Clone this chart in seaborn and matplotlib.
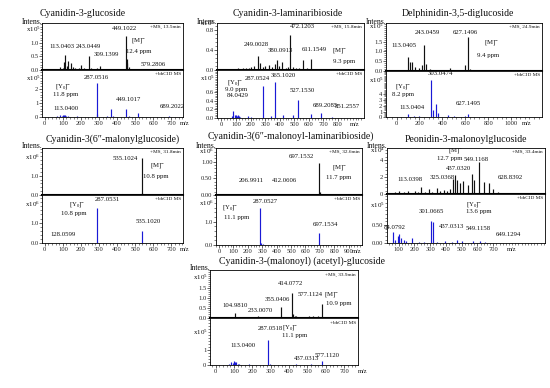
import matplotlib
matplotlib.use("Agg")
import matplotlib.pyplot as plt
import matplotlib.transforms as mtrans
from matplotlib.ticker import AutoMinorLocator, FixedLocator, NullLocator
import pandas as pd
import seaborn as sns

# ------------------------------------------------------------------ data
TITLES = ["Cyanidin-3-glucoside", "Cyanidin-3-laminaribioside",
          "Delphinidin-3,5-diglucoside", "Cyanidin-3(6\u2033-malonylglucoside)",
          "Cyanidin-3(6\u2033-malonoyl-laminaribioside)",
          "Peonidin-3-malonoylglucoside",
          "Cyanidin-3-(malonoyl) (acetyl)-glucoside"]
MS_INFO = ["+MS, 13.5min", "+MS, 15.8min", "+MS, 24.9min", "+MS, 31.8min",
           "+MS, 32.6min", "+MS, 33.4min", "+MS, 33.9min"]
CID_INFO = "+bbCID MS"

# panel 1
P1_MS_MZ = [70, 85, 100, 107, 113, 121, 131, 143, 155, 165, 178, 190, 203, 215, 229, 243, 258, 275,
            291, 305, 330, 360, 385, 405, 430, 449, 452, 457, 463, 480, 520, 579, 610, 650]
P1_MS_INT = [0.04, 0.1, 0.07, 0.3, 0.55, 0.15, 0.33, 0.27, 0.12, 0.06, 0.05, 0.08, 0.2, 0.07, 0.05,
             0.52, 0.06, 0.04, 0.06, 0.15, 0.04, 0.04, 0.03, 0.05, 0.05, 1.26, 0.4, 0.25, 0.1, 0.05,
             0.03, 0.05, 0.02, 0.02]
P1_CID_MZ = [70, 85, 95, 100, 105, 113, 120, 130, 160, 180, 287, 290, 345, 365, 380, 449, 465, 517, 600, 689]
P1_CID_INT = [0.05, 0.15, 0.1, 0.15, 0.12, 0.12, 0.08, 0.05, 0.03, 0.04, 2.45, 0.2, 0.1, 0.55, 0.1,
              0.55, 0.05, 0.32, 0.03, 0.1]
P1_MS_NOTES = ["449.1022", "113.0403", "243.0449", "309.1399", "[M]$^{-}$", "12.4 ppm", "579.2806"]
P1_CID_NOTES = ["287.0516", "[Y$_{0}$]$^{-}$", "11.8 ppm", "113.0400", "449.1017", "689.2022"]
P1_MS_YT = [0.0, 0.5, 1.0]
P1_CID_YT = [0, 1, 2]
P1_EXP = (5, 5)

# panel 2
P2_MS_MZ = [60, 85, 100, 115, 130, 150, 170, 190, 205, 225, 249, 265, 285, 300, 325, 345, 365, 379,
            395, 414, 440, 455, 471, 490, 510, 530, 558, 590, 615, 640, 700]
P2_MS_INT = [0.02, 0.03, 0.03, 0.04, 0.03, 0.05, 0.04, 0.05, 0.06, 0.08, 0.28, 0.15, 0.06, 0.08, 0.1,
             0.06, 0.12, 0.21, 0.08, 0.16, 0.05, 0.06, 0.7, 0.06, 0.05, 0.04, 0.2, 0.04, 0.23, 0.03, 0.02]
P2_CID_MZ = [70, 82, 90, 97, 105, 113, 120, 130, 180, 200, 287, 340, 368, 425, 493, 527, 612, 683, 757]
P2_CID_INT = [0.04, 0.17, 0.06, 0.08, 0.05, 0.07, 0.04, 0.03, 0.05, 0.03, 0.75, 0.05, 0.83, 0.06,
              0.08, 0.42, 0.1, 0.12, 0.03]
P2_MS_NOTES = ["472.1203", "249.0028", "380.0913", "611.1549", "[M]$^{-}$", "9.3 ppm"]
P2_CID_NOTES = ["287.0524", "365.1020", "[Y$_{0}$]$^{-}$", "9.0 ppm", "84.0429", "527.1530",
                "689.2085", "851.2557"]
P2_MS_YT = [0.0, 0.4, 0.8]
P2_CID_YT = [0.0, 0.2, 0.4, 0.6]
P2_EXP = (5, 5)

# panel 3
P3_MS_MZ = [98, 118, 138, 161, 196, 220, 243, 255, 290, 350, 420, 467, 500, 598, 627, 640]
P3_MS_INT = [0.72, 0.46, 0.45, 0.2, 0.15, 0.3, 1.35, 0.35, 0.08, 0.06, 0.05, 0.15, 0.05, 0.3, 1.75, 0.1]
P3_CID_MZ = [98, 150, 200, 303, 320, 345, 360, 450, 500, 600, 627]
P3_CID_INT = [0.6, 0.3, 0.2, 6.37, 1.2, 2.3, 0.8, 0.4, 0.2, 0.3, 0.6]
P3_MS_NOTES = ["243.0459", "627.1496", "113.0405", "[M]$^{-}$", "9.4 ppm"]
P3_CID_NOTES = ["303.0474", "[Y$_{0}$]$^{-}$", "8.2 ppm", "113.0404", "627.1495"]
P3_MS_YT = [0.0, 0.5, 1.0, 1.5]
P3_CID_YT = [0, 1, 2, 3, 4]
P3_EXP = (5, 5)

# panel 4
P4_MS_MZ = [287, 449, 535, 537]
P4_MS_INT = [0.02, 0.01, 1.9, 0.12]
P4_CID_MZ = [128, 287, 290, 535]
P4_CID_INT = [0.02, 1.73, 0.06, 0.6]
P4_MS_NOTES = ["535.1024", "[M]$^{-}$", "10.8 ppm"]
P4_CID_NOTES = ["287.0531", "[Y$_{0}$]$^{-}$", "10.8 ppm", "535.1020", "128.0599"]
P4_MS_YT = [0.0, 1.0]
P4_CID_YT = [0.0, 1.0]
P4_EXP = (6, 6)

# panel 5
P5_MS_MZ = [120, 207, 300, 412, 535, 697, 700]
P5_MS_INT = [0.01, 0.02, 0.02, 0.03, 0.01, 0.95, 0.08]
P5_CID_MZ = [128, 287, 290, 305, 535, 697]
P5_CID_INT = [0.02, 1.6, 0.1, 0.06, 0.02, 0.5]
P5_MS_NOTES = ["697.1532", "[M]$^{-}$", "11.7 ppm", "206.9911", "412.0606"]
P5_CID_NOTES = ["287.0527", "[Y$_{0}$]$^{-}$", "11.1 ppm", "697.1534"]
P5_MS_YT = [0.0, 0.5, 1.0]
P5_CID_YT = [0.0, 1.0]
P5_EXP = (6, 6)

# panel 6
P6_MS_MZ = [60, 80, 100, 115, 132, 150, 163, 185, 206, 225, 244, 265, 290, 315, 343, 365, 385, 405,
            427, 448, 459, 470, 491, 511, 539, 565, 581, 613, 644, 674, 701, 733, 760]
P6_MS_INT = [0.15, 0.2, 0.3, 0.15, 0.25, 0.1, 0.35, 0.15, 0.4, 0.2, 0.85, 0.2, 0.55, 0.25, 0.7, 0.3,
             0.5, 0.3, 0.6, 1.8, 2.2, 1.7, 1.3, 1.5, 1.0, 2.4, 1.6, 3.7, 1.4, 1.3, 0.6, 0.2, 0.1]
P6_CID_MZ = [62, 79, 96, 104, 117, 132, 150, 185, 227, 260, 305, 318, 343, 396, 440, 470, 501, 575, 617, 650]
P6_CID_INT = [0.3, 0.08, 0.2, 0.25, 0.15, 0.1, 0.05, 0.15, 0.03, 0.03, 0.6, 0.59, 0.03, 0.05, 0.04,
              0.1, 0.05, 0.07, 0.05, 0.03]
P6_MS_NOTES = ["[M]$^{-}$", "12.7 ppm", "549.1168", "437.0320", "325.0368", "113.0398", "628.8392"]
P6_CID_NOTES = ["84.0792", "301.0665", "[Y$_{0}$]$^{-}$", "13.6 ppm", "437.0313", "549.1158", "649.1294"]
P6_MS_YT = [0, 2, 4]
P6_CID_YT = [0.0, 0.5]
P6_EXP = (4, 5)

# panel 7
P7_MS_MZ = [60, 80, 105, 120, 150, 190, 215, 233, 260, 290, 320, 340, 355, 390, 405, 414, 420, 430,
            440, 460, 485, 500, 510, 530, 545, 560, 577, 600, 640]
P7_MS_INT = [0.03, 0.04, 0.25, 0.05, 0.03, 0.04, 0.05, 0.13, 0.05, 0.07, 0.04, 0.06, 0.56, 0.05, 0.08,
             1.25, 0.2, 0.1, 0.1, 0.08, 0.05, 0.06, 0.1, 0.1, 0.05, 0.12, 0.7, 0.05, 0.02]
P7_CID_MZ = [75, 85, 95, 100, 107, 113, 120, 130, 180, 287, 295, 355, 437, 520, 577, 600]
P7_CID_INT = [0.08, 0.2, 0.15, 0.25, 0.2, 0.22, 0.1, 0.05, 0.06, 1.67, 0.1, 0.03, 0.05, 0.05, 0.25, 0.03]
P7_MS_NOTES = ["414.0772", "577.1124", "[M]$^{-}$", "10.9 ppm", "355.0406", "104.9810", "233.0070"]
P7_CID_NOTES = ["287.0518", "[Y$_{0}$]$^{-}$", "11.1 ppm", "113.0400", "437.0313", "577.1120"]
P7_MS_YT = [0.0, 0.5, 1.0, 1.5]
P7_CID_YT = [0, 1]
P7_EXP = (5, 5)

# ------------------------------------------------------------------ layout (pixels / data positions)
W, H = 550, 388
LAYOUT = [
    dict(box=(42, 183, 23, 70, 117), xlim=(-15, 764), xt=(0, 700, 100), mz_x=775, title=(83, 14),
         ms_ylim=1.74, ms_exp_y=1.5, ms_fmt="{:.1f}", cid_ylim=3.36, cid_exp_y=2.75, cid_fmt="{:.0f}",
         ms_xy=[(440, 1.55), (94, 0.86), (240, 0.86), (339, 0.56), (516, 1.05), (518, 0.68), (601, 0.19)],
         cid_xy=[(283, 2.83), (101, 2.12), (118, 1.62), (118, 0.62), (461, 1.26), (706, 0.74)]),
    dict(box=(217, 364, 23, 70, 118), xlim=(-30, 978), xt=(0, 800, 100), mz_x=916, title=(288, 14),
         ms_ylim=0.94, ms_exp_y=0.93, ms_fmt="{:.1f}", cid_ylim=1.12, cid_exp_y=0.92, cid_fmt="{:.1f}",
         ms_xy=[(555, 0.88), (242, 0.52), (407, 0.4), (635, 0.41), (813, 0.37), (843, 0.17)],
         cid_xy=[(244, 0.91), (425, 1.0), (98, 0.81), (98, 0.66), (109, 0.52), (555, 0.63),
                 (711, 0.3), (863, 0.26)]),
    dict(box=(386, 542, 23, 71, 117.3), xlim=(-92, 1270), xt=(0, 1000, 200), mz_x=1140, title=(458, 14),
         ms_ylim=2.46, ms_exp_y=2.3, ms_fmt="{:.1f}", cid_ylim=8.0, cid_exp_y=6.4, cid_fmt="{:.0f}",
         ms_xy=[(269, 1.96), (598, 1.96), (65, 1.32), (830, 1.41), (801, 0.81)],
         cid_xy=[(379, 7.6), (60, 5.2), (60, 4.0), (138, 1.7), (627, 2.45)]),
    dict(box=(42, 183, 148, 195, 243.3), xlim=(-15, 764), xt=(0, 700, 100), mz_x=775, title=(113, 139),
         ms_ylim=2.43, ms_exp_y=1.95, ms_fmt="{:.1f}", cid_ylim=2.34, cid_exp_y=1.9, cid_fmt="{:.1f}",
         ms_xy=[(444, 1.9), (621, 1.47), (615, 0.95)],
         cid_xy=[(347, 2.1), (181, 1.86), (162, 1.46), (571, 1.05), (101, 0.44)]),
    dict(box=(216, 362, 148, 195, 245), xlim=(-21, 993), xt=(0, 900, 100), mz_x=956, title=(291, 136),
         ms_ylim=1.41, ms_exp_y=1.3, ms_fmt="{:.2f}", cid_ylim=2.15, cid_exp_y=1.8, cid_fmt="{:.1f}",
         ms_xy=[(575, 1.15), (834, 0.8), (834, 0.53), (227, 0.42), (458, 0.42)],
         cid_xy=[(324, 1.86), (75, 1.57), (123, 1.17), (736, 0.86)]),
    dict(box=(387, 545, 148, 194, 243.3), xlim=(27, 1028), xt=(100, 700, 100), mz_x=820, title=(466, 139),
         ms_ylim=5.4, ms_exp_y=5.1, ms_fmt="{:.0f}", cid_ylim=1.35, cid_exp_y=1.05, cid_fmt="{:.2f}",
         ms_xy=[(459, 5.05), (427, 4.2), (590, 4.0), (480, 2.94), (375, 1.96), (174, 1.65), (807, 1.96)],
         cid_xy=[(75, 0.43), (311, 0.86), (581, 1.05), (606, 0.86), (438, 0.45), (606, 0.41), (796, 0.23)]),
    dict(box=(210, 358, 270, 318.3, 365), xlim=(-30, 775), xt=(0, 700, 100), mz_x=802, title=(302, 261),
         ms_ylim=2.4, ms_exp_y=2.03, ms_fmt="{:.1f}", cid_ylim=3.13, cid_exp_y=2.2, cid_fmt="{:.0f}",
         ms_xy=[(409, 1.75), (517, 1.16), (631, 1.16), (671, 0.75), (336, 0.91), (106, 0.63), (246, 0.38)],
         cid_xy=[(296, 2.44), (409, 2.44), (432, 1.95), (151, 1.29), (496, 0.45), (607, 0.67)]),
]

TITLE_FS, NOTE_FS, TICK_FS, INFO_FS, LBL_FS, EXP_FS = 7.1, 4.9, 4.7, 3.8, 5.6, 5.0
MS_COLOR, CID_COLOR = "#111111", "#1a1ad6"

# ------------------------------------------------------------------ style
sns.set_theme(style="ticks")
plt.rcParams["font.family"] = ["Liberation Serif", "DejaVu Serif"]
plt.rcParams["mathtext.fontset"] = "custom"
plt.rcParams["mathtext.rm"] = "Liberation Serif"
plt.rcParams["mathtext.it"] = "Liberation Serif:italic"
plt.rcParams["axes.linewidth"] = 0.6
plt.rcParams["text.color"] = "#111111"

fig = plt.figure(figsize=(W / 100, H / 100), dpi=100)
fig.patch.set_facecolor("white")

panels = [
    (P1_MS_MZ, P1_MS_INT, P1_CID_MZ, P1_CID_INT, P1_MS_NOTES, P1_CID_NOTES, P1_MS_YT, P1_CID_YT, P1_EXP),
    (P2_MS_MZ, P2_MS_INT, P2_CID_MZ, P2_CID_INT, P2_MS_NOTES, P2_CID_NOTES, P2_MS_YT, P2_CID_YT, P2_EXP),
    (P3_MS_MZ, P3_MS_INT, P3_CID_MZ, P3_CID_INT, P3_MS_NOTES, P3_CID_NOTES, P3_MS_YT, P3_CID_YT, P3_EXP),
    (P4_MS_MZ, P4_MS_INT, P4_CID_MZ, P4_CID_INT, P4_MS_NOTES, P4_CID_NOTES, P4_MS_YT, P4_CID_YT, P4_EXP),
    (P5_MS_MZ, P5_MS_INT, P5_CID_MZ, P5_CID_INT, P5_MS_NOTES, P5_CID_NOTES, P5_MS_YT, P5_CID_YT, P5_EXP),
    (P6_MS_MZ, P6_MS_INT, P6_CID_MZ, P6_CID_INT, P6_MS_NOTES, P6_CID_NOTES, P6_MS_YT, P6_CID_YT, P6_EXP),
    (P7_MS_MZ, P7_MS_INT, P7_CID_MZ, P7_CID_INT, P7_MS_NOTES, P7_CID_NOTES, P7_MS_YT, P7_CID_YT, P7_EXP),
]

# tidy table of all peaks
rows = []
for i, (mm, mi, cm, ci, *_rest) in enumerate(panels):
    rows += [dict(panel=i, scan="MS", mz=a, inten=b) for a, b in zip(mm, mi)]
    rows += [dict(panel=i, scan="CID", mz=a, inten=b) for a, b in zip(cm, ci)]
peaks = pd.DataFrame(rows)


def style_axis(ax, yticks, ylim, fmt, exp, exp_y, show_x, lay):
    ax.set_xlim(*lay["xlim"])
    ax.set_ylim(0, ylim)
    ax.yaxis.set_major_locator(FixedLocator(yticks))
    ax.set_yticklabels([fmt.format(v) for v in yticks])
    ax.yaxis.set_minor_locator(AutoMinorLocator(5))
    ax.tick_params(axis="y", which="major", direction="out", length=2, width=0.5, pad=0.6,
                   labelsize=TICK_FS)
    ax.tick_params(axis="y", which="minor", direction="out", length=1.1, width=0.4)
    if show_x:
        a, b, s = lay["xt"]
        ax.xaxis.set_major_locator(FixedLocator(list(range(a, b + 1, s))))
        ax.xaxis.set_minor_locator(AutoMinorLocator(5))
        ax.tick_params(axis="x", which="major", direction="out", length=2, width=0.5, pad=0.6,
                       labelsize=TICK_FS)
        ax.tick_params(axis="x", which="minor", direction="out", length=1.1, width=0.4)
        ax.annotate("m/z", xy=(lay["mz_x"], 0), xycoords=("data", "axes fraction"),
                    xytext=(0, -2.6), textcoords="offset points", ha="center", va="top",
                    fontsize=TICK_FS, annotation_clip=False)
    else:
        ax.xaxis.set_major_locator(NullLocator())
        ax.xaxis.set_minor_locator(NullLocator())
    tr = mtrans.blended_transform_factory(ax.transAxes, ax.transData)
    ax.text(-0.012, exp_y, "x10$^{%d}$" % exp, transform=tr, ha="right", va="center",
            fontsize=EXP_FS)
    for sp in ax.spines.values():
        sp.set_visible(True)
        sp.set_linewidth(0.6)
        sp.set_color("black")
    ax.set_facecolor("white")
    ax.grid(False)
    ax.set_xlabel("")
    ax.set_ylabel("")


for i, (lay, pdata) in enumerate(zip(LAYOUT, panels)):
    _, _, _, _, ms_notes, cid_notes, ms_yt, cid_yt, exps = pdata
    L, R, T, M, B = lay["box"]
    ax_ms = fig.add_axes([L / W, 1 - M / H, (R - L) / W, (M - T) / H])
    ax_cid = fig.add_axes([L / W, 1 - B / H, (R - L) / W, (B - M) / H])

    sub = peaks[peaks.panel == i]
    for ax, scan, col in ((ax_ms, "MS", MS_COLOR), (ax_cid, "CID", CID_COLOR)):
        d = sub[sub.scan == scan]
        ax.vlines(d["mz"], 0, d["inten"], colors=col, linewidth=0.85)

    style_axis(ax_ms, ms_yt, lay["ms_ylim"], lay["ms_fmt"], exps[0], lay["ms_exp_y"], False, lay)
    style_axis(ax_cid, cid_yt, lay["cid_ylim"], lay["cid_fmt"], exps[1], lay["cid_exp_y"], True, lay)
    ax_ms.spines["bottom"].set_linewidth(1.5)

    for txt, (x, y) in zip(ms_notes, lay["ms_xy"]):
        ax_ms.text(x, y, txt, ha="center", va="center", fontsize=NOTE_FS)
    for txt, (x, y) in zip(cid_notes, lay["cid_xy"]):
        ax_cid.text(x, y, txt, ha="center", va="center", fontsize=NOTE_FS)

    ax_ms.text(0.985, 0.95, MS_INFO[i], transform=ax_ms.transAxes, ha="right", va="top",
               fontsize=INFO_FS)
    ax_cid.text(0.985, 0.95, CID_INFO, transform=ax_cid.transAxes, ha="right", va="top",
                fontsize=INFO_FS)

    fig.text(lay["title"][0] / W, 1 - lay["title"][1] / H, TITLES[i], ha="center", va="center",
             fontsize=TITLE_FS)
    fig.text((L + 1) / W, 1 - (T - 1.5) / H, "Intens.", ha="right", va="center", fontsize=LBL_FS)

fig.savefig("out.png", dpi=100, facecolor="white")
